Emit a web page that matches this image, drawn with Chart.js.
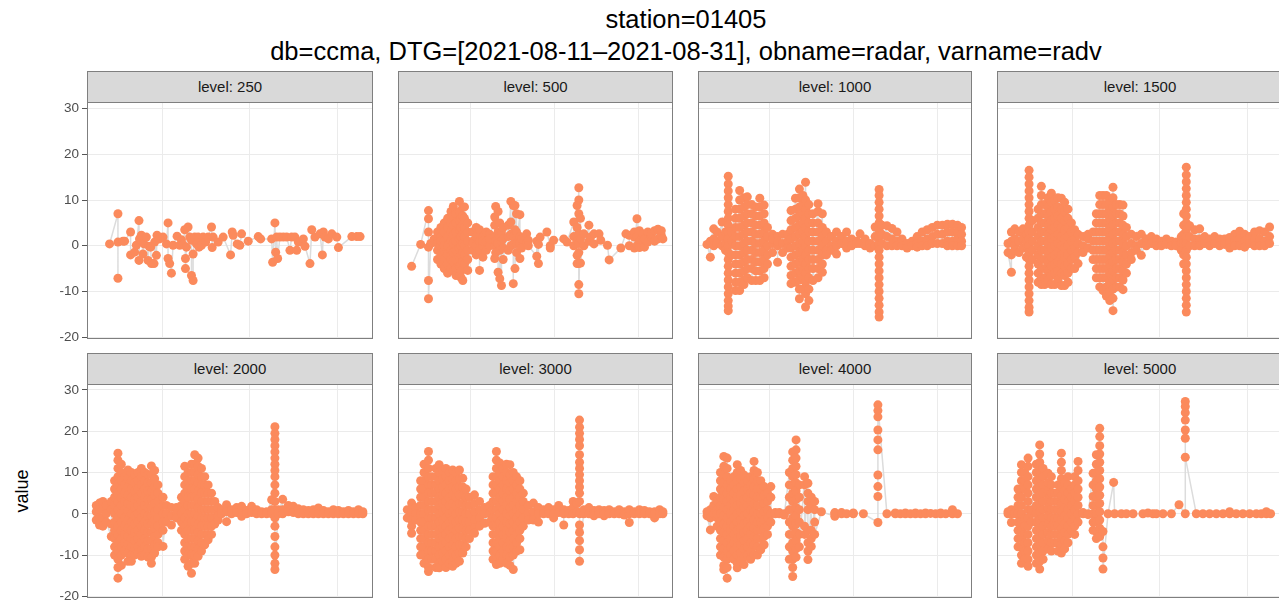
<!DOCTYPE html>
<html>
<head>
<meta charset="utf-8">
<title>station=01405 radar radv</title>
<script src="https://cdn.jsdelivr.net/npm/chart.js@4.4.1/dist/chart.umd.min.js"></script>
<style>
  html, body { margin: 0; padding: 0; background: #fff; overflow: hidden; }
  #fig { position: relative; width: 1279px; height: 601px; overflow: hidden;
         font-family: "Liberation Sans", Arial, Helvetica, sans-serif; background: #fff; }
  .ttl { position: absolute; left: 0; width: 1372px; text-align: center; color: #000;
         font-size: 25.5px; height: 30px; line-height: 30px; white-space: nowrap; }
  .strip { position: absolute; box-sizing: border-box; background: #D9D9D9;
           border: 1px solid #7f7f7f; color: #1a1a1a; font-size: 15px; text-align: center;
           white-space: nowrap; }
  .ylab { position: absolute; left: 22px; top: 491px; transform: translate(-50%, -50%) rotate(-90deg);
          font-size: 18px; color: #000; white-space: nowrap; }
  canvas { position: absolute; }
</style>
</head>
<body>
<div id="fig">
  <div class="ttl" style="top:4px">station=01405</div>
  <div class="ttl" style="top:36px">db=ccma, DTG=[2021-08-11–2021-08-31], obname=radar, varname=radv</div>
  <div class="ylab">value</div>
</div>
<script>
// Time axis in days since 2021-08-11 00:00; breaks on Aug 16, 23, 30.
const xBreaks = [5, 12, 19];
const yBreaks = [-20, -10, 0, 10, 20, 30];
const levels = [250, 500, 1000, 1500, 2000, 3000, 4000, 5000];

// Each entry: [day, [radial velocity values observed at that time]]
const lv250 = [[0.81,[0.4]],[1.48,[7.0,-7.1,0.8]],[1.88,[1.0]],[2.01,[1.0]],[2.49,[3.0,-2.0]],[2.81,[-1.4]],[2.95,[0.1]],
  [3.16,[5.5,-3.2]],[3.2,[1.5]],[3.35,[2.3]],[3.48,[-1.8]],[3.56,[0.4]],[3.75,[1.9]],[3.88,[-3.2]],[3.96,[-0.1]],
  [4.09,[-0.3]],[4.15,[-3.9]],[4.36,[-3.9]],[4.41,[0.8]],[4.55,[-2.1]],[4.6,[2.3]],[4.81,[1.5]],[5.08,[1.9]],
  [5.35,[0.4]],[5.48,[5.0,-2.8]],[5.61,[-3.9]],[5.75,[-6.0]],[5.88,[0.1]],[6.2,[2.1]],[6.41,[0.1]],[6.55,[1.3]],
  [6.68,[0.2]],[6.81,[3.5]],[6.87,[-2.8,-5.0]],[6.95,[-0.3]],[7.08,[4.1]],[7.21,[1.9]],[7.35,[1.2,-6.5]],
  [7.48,[-7.6,-1.8]],[7.61,[1.9]],[7.75,[0.4]],[7.88,[1.9]],[7.95,[-0.3]],[8.15,[0.1]],[8.28,[1.9]],[8.48,[0.8]],
  [8.68,[1.9]],[8.95,[4.1]],[9.0,[-0.4]],[9.08,[1.9]],[9.48,[0.8]],[9.88,[1.9]],[10.47,[-2.0]],[10.6,[3.0]],
  [10.68,[2.3]],[11.0,[0.4]],[11.21,[0.1]],[11.35,[2.6]],[11.88,[1.0]],[12.68,[2.0]],[12.87,[1.5]],[13.75,[1.5]],
  [13.83,[-3.6]],[14.01,[5.0]],[14.07,[-1.4]],[14.15,[1.9]],[14.23,[-2.8]],[14.41,[1.9]],[14.68,[1.9]],[14.95,[1.9]],
  [15.21,[-1.0]],[15.35,[1.9]],[15.61,[1.9]],[15.75,[-1.0]],[15.88,[0.8]],[16.28,[1.5]],[16.41,[-0.1]],[16.81,[-3.9]],
  [16.95,[3.5]],[17.21,[1.9]],[17.61,[2.6]],[17.8,[-2.0]],[17.88,[3.0]],[18.01,[1.9]],[18.28,[1.5]],[18.55,[2.6]],
  [18.95,[1.9]],[19.08,[-0.4]],[20.15,[2.0]],[20.55,[2.0]],[20.81,[2.0]]];

const lv500 = [[0.14,[-4.5]],[0.89,[0.3]],[1.54,[7.7,5.9,3.0,-0.3,-7.6,-11.6]],[1.73,[0.5]],[2.01,[1.5]],
  [2.29,[1,3,-1,-3,0.5]],[2.57,[4,2,0,-2,-4,1]],[2.85,[5,3,1,-1,-3,-5,0]],[3.13,[6,4,2,0,-2,-4,-6]],
  [3.41,[7.5,5,3,1,-1,-3,-5]],[3.6,[8.6,6.5,4.5,2.5,0.5,-1.5,-3.5,-5.5]],[3.83,[7,5,3,1,-1,-3,-5,-6.5]],
  [4.11,[9.7,7.5,5.5,3.5,1.5,-0.5,-2.5,-4.5,-6.5]],[4.25,[6,4,2,0,-2,-4,-5.5,-7]],
  [4.39,[8.5,6.5,4.5,2.5,0.5,-1.5,-3.5,-7.6]],[4.53,[8.5,6,4,2,0,-2,-4]],[4.8,[5,3,1,-1,-3,-5.4]],
  [5.22,[3,1,-1,0.5]],[5.5,[4,2,0,-2]],[5.78,[3.5,1,-5.4,-1]],[6.06,[2,0,-2.5,1]],[6.34,[3,1,-1]],[6.62,[2.5,0,1.5]],
  [7.04,[6.3,4.5,2,-2.8,0]],[7.12,[8.6,1,-1.5]],[7.32,[7.5,3,-5.8,0.5]],[7.46,[5,2,-7.2,-1]],[7.6,[-8.7,1,3]],
  [7.74,[4,1.5,-0.5,-3]],[8.16,[4.5,2,-1]],[8.38,[9.7,5.2,2.5,0]],[8.58,[8.8,0.3,-8.3,2]],[8.72,[8.8,3.5,1,-5]],
  [8.85,[7,3,-1.5,0.5]],[9.13,[6.8,2,-2.8,0.5]],[9.27,[1.5,-0.5]],[9.69,[2.6,0.5]],[9.83,[1.2,0]],[10.53,[-2.3,1]],
  [10.67,[-3.9,0.3]],[10.81,[1.9]],[11.37,[3.0]],[11.65,[0,-0.5]],[11.93,[1.2]],[12.77,[1.5]],[13.04,[0.8]],
  [13.6,[5.2,2,0]],[13.88,[8.8,4,1,-2.1,-3.9]],[14.02,[12.7,10,7,2.6,0.5,-1.5,-3.9,-8.5,-10.5]],[14.16,[6,1.5,-3.8]],
  [14.44,[2.6,0]],[14.86,[4.5,1]],[14.99,[1.9]],[15.28,[0.4,2.6]],[15.7,[2.6]],[15.84,[1.2]],[16.4,[0.1]],
  [16.54,[-3.1]],[17.51,[-0.5]],[17.93,[2.6]],[18.21,[2.3,0]],[18.63,[1.9,3,-0.5]],[18.85,[5.9,2,0]],
  [19.05,[3.3,1,-0.4]],[19.33,[1.2,2.6]],[19.47,[-0.3,1.5]],[19.75,[3.0,0.8]],[20.03,[1.9,2.6]],[20.31,[3.3,1]],
  [20.59,[3.6,1.5]],[20.87,[2.3,3.3]],[21.0,[1.5]]];

const lv1000 = [[-0.24,[0.3]],[0.04,[-2.5,0.5,1]],[0.32,[3.7,1.5,0]],[0.6,[1,3,0.5]],[1.02,[5.2,2,0]],[1.3,[3,0.5,-1]],
  [1.53,[15.2,13.5,12,10.5,9,7.5,6,4.5,3,1.5,0,-1.5,-3,-4.5,-6,-7.5,-9,-10.5,-12,-13.2,-14.2]],[1.81,[1,-2,3]],
  [2.14,[8,6,4,2,0,-2,-4,-6,-8,-9.8]],[2.48,[12.1,10,8,6,4,2,0,-2,-4,-6,-8,-9.8]],
  [2.84,[10.5,8.5,6.5,4.5,2.5,0.5,-1.5,-3.5,-5.5,-7.5,-8.5]],[3.12,[10.7,9,7,5,3,1,-1,-3,-5,-7]],
  [3.49,[9,7,5,3,1,-1,-3,-5,-7.6]],[3.82,[8.5,6.5,4.5,2.5,0.5,-1.5,-3.5,-5.5,-7.6]],
  [4.16,[10.4,8.5,6.5,4.5,2.5,0.5,-1.5,-3.5,-5.5,-7.6]],[4.52,[8.9,7,5,3,1,-1,-3,-5,-7]],[4.8,[4,2,0,-2,-4]],
  [5.22,[2.5,0.5,-1.5,1.5]],[5.64,[2,0,-3.6,1]],[6.06,[2.5,0.5,-1.5]],[6.48,[1,2.5,-0.5]],
  [6.76,[7.7,5.5,3.5,1.5,-0.5,-2.5,-4.5,-6.5,-8.3]],[7.13,[10.4,8,6,4,2,0,-2,-4,-6,-8]],
  [7.46,[12.4,10.5,8.5,6.5,4.5,2.5,0.5,-1.5,-3.5,-5.5,-7.5,-9.5,-11.6]],[7.75,[11,9,7,5,3,1,-1,-3,-5,-7,-9.5]],
  [7.97,[13.9,10,8,6,4,2,0,-2,-4,-6,-8,-10.5,-13.4]],[8.25,[9,7,5,3,1,-1,-3,-5,-7,-9.5,-12]],
  [8.59,[7,5,3,1,-1,-3,-5,-7.6]],[9.01,[9.2,7.5,5,3,1,-1,-3,-5,-7]],[9.37,[7,4,2,0,-2,-4,-5.8]],[9.71,[3,1,-1,-2]],
  [10.13,[2,0,-1]],[10.55,[3,1,-1.8,0]],[10.97,[2,0.5]],[11.39,[3,1,-0.5]],[11.81,[1.5,0]],[12.23,[1,0.5]],
  [12.51,[2.6,0.5]],[12.93,[1.5,0]],[13.35,[0.5,-0.5]],[13.77,[4.1,2,0]],
  [14.1,[12.3,11,9.5,8,6.5,5,3.5,2,0.5,-1,-2.5,-4,-5.5,-7,-8.5,-10,-11.5,-13,-14.5,-15.6]],[14.33,[4.5,2.5,0.5]],
  [14.75,[4.4,2,0]],[15.17,[3.8,1.5,0]],[15.59,[3,1,0]],[16.01,[1.5,0]],[16.43,[0.5,-0.5]],[16.85,[1,0]],
  [17.27,[2,0.5,-0.3]],[17.69,[3,1,0]],[18.11,[3.5,1.5,0]],[18.53,[4,2,0.5]],[18.95,[4.5,2.5,0.5]],
  [19.37,[4.5,2.5,0.5]],[19.79,[4.7,3,1,0]],[20.21,[4.7,3,1,0]],[20.63,[4.5,3,1.5,0]],[20.97,[4,2.5,1,0]]];

const lv1500 = [[-0.11,[0.5,-1.5]],[0.16,[-5.8,1,3,-2]],[0.43,[3.7,1.5,0,-1]],[0.77,[3,1,-1.5]],[1.09,[3.7,1.5,-0.5]],
  [1.36,[2.5,0,-2.5,1]],[1.57,[16.5,15,13.5,12,10.5,9,7.5,6,4.5,3,1.5,0,-1.5,-3,-4.5,-6,-7.5,-9,-10.5,-12,-13.5,-14.5]],
  [1.84,[3,1,-1,-3,5.5]],[2.29,[8,6,4,2,0,-2,-4,-6,-8]],[2.55,[13,11,9,7,5,3,1,-1,-3,-5,-7,-8.5]],
  [2.82,[9,7,5,3,1,-1,-3,-5,-7,-8.5]],[3.09,[10.5,8.5,6.5,4.5,2.5,0.5,-1.5,-3.5,-5.5,-7.5]],
  [3.35,[11.5,9.5,7.5,5.5,3.5,1.5,-0.5,-2.5,-4.5,-6.5,-8.5]],[3.62,[10,8,6,4,2,0,-2,-4,-6,-8.5]],
  [3.88,[10.5,8.5,6.5,4.5,2.5,0.5,-1.5,-3.5,-5.5,-7.5]],[4.15,[10.4,8,6,4,2,0,-2,-4,-6,-8.7]],
  [4.41,[9.5,7.5,5.5,3.5,1.5,-0.5,-2.5,-4.5,-6.5,-8.7]],[4.68,[8,6,4,2,0,-2,-4,-6,-8]],[4.95,[5,3,1,-1,-3,-5]],
  [5.21,[3.5,1.5,-0.5,-2.5,-5]],[5.48,[2.5,0.5,-1.5,-3.9]],[5.88,[2,0,-1.5]],[6.28,[1.5,-0.5,2.5]],[6.68,[3,1,-1,-3]],
  [6.94,[7,5,3,1,-1,-3,-5,-7]],[7.21,[11,9,7,5,3,1,-1,-3,-5,-7,-9]],[7.47,[11,9,7,5,3,1,-1,-3,-5,-7,-9.8]],
  [7.74,[11,9,7,5,3,1,-1,-3,-5,-7,-9,-11]],[8.01,[10,8,6,4,2,0,-2,-4,-6,-8,-10,-12]],
  [8.27,[12.8,10.5,8.5,6.5,4.5,2.5,0.5,-1.5,-3.5,-5.5,-7.5,-9.5,-11.5,-14.2]],[8.54,[9,7,5,3,1,-1,-3,-5,-7,-9]],
  [8.8,[9,7,5,3,1,-1,-3,-5,-7,-9]],[9.07,[8.9,6.5,4.5,2.5,0.5,-1.5,-3.5,-5.5,-7.5,-9.6]],[9.34,[4,2,0,-2,-4,-6]],
  [9.73,[2.5,0.5,-1.5,-3]],[10.13,[2,0,-1]],[10.53,[2.5,0.5,-2.1]],[10.93,[1.5,0]],[11.33,[2,0.5]],[11.73,[1.5,0]],
  [12.13,[1,0]],[12.53,[1.5,0.3]],[12.93,[1,0]],[13.32,[0.8,0]],[13.72,[2,0.5,-1]],[13.91,[7,4.5,2.5,0.5,-2,-4]],
  [14.12,[17.2,15.5,14,12.5,11,9.5,8,6.5,5,3.5,2,0.5,-1,-2.5,-4,-5.5,-7,-8.5,-10,-11.5,-13,-14.5]],[14.39,[4.4,2,0]],
  [14.79,[3.5,1.5,0]],[15.19,[3.7,1.5,0]],[15.59,[2,0.5]],[15.98,[1.5,0]],[16.38,[2,0.5]],[16.78,[1.5,0]],
  [17.18,[1.5,0.3]],[17.58,[1.8,0.5,-0.5]],[17.98,[2.5,1,0]],[18.38,[3.2,1.5,0]],[18.78,[2.5,1,-0.3]],[19.18,[2,0.5]],
  [19.57,[3,1.5,0]],[19.97,[3.3,1.5,0]],[20.37,[3,1,0]],[20.77,[4.1,2,0.5]]];

const lv2000 = [[-0.25,[0.5,-1.5,2]],[0.01,[2.6,1,-1,-2.7]],[0.28,[3,1,-1,-3]],[0.55,[2,0,-2]],[0.95,[-5.5,1,-2.5,3]],
  [1.21,[8,6,4,2,0,-2,-4,-6,-8,-10]],[1.48,[14.7,13,11,9,7,5,3,1,-1,-3,-5,-7,-9,-11,-13,-15.6]],
  [1.75,[12,10,8,6,4,2,0,-2,-4,-6,-8,-10,-12.5]],[2.01,[9,7,5,3,1,-1,-3,-5,-7,-9]],
  [2.28,[10.6,8.5,6.5,4.5,2.5,0.5,-1.5,-3.5,-5.5,-7.5,-9.5,-11.5]],[2.55,[10,8,6,4,2,0,-2,-4,-6,-8,-10,-11.5]],
  [2.81,[9.5,7.5,5.5,3.5,1.5,-0.5,-2.5,-4.5,-6.5,-8.5,-10]],[3.08,[10,8,6,4,2,0,-2,-4,-6,-8,-9.5]],
  [3.35,[11,9,7,5,3,1,-1,-3,-5,-7,-9,-10.3]],[3.61,[10,8,6,4,2,0,-2,-4,-6,-8,-10]],
  [3.88,[9.5,7.5,5.5,3.5,1.5,-0.5,-2.5,-4.5,-6.5,-8.5,-10.5]],
  [4.15,[11.6,9.5,7.5,5.5,3.5,1.5,-0.5,-2.5,-4.5,-6.5,-8.5,-10.5,-12]],
  [4.41,[10.5,8.5,6.5,4.5,2.5,0.5,-1.5,-3.5,-5.5,-7.5,-9.5]],[4.68,[7,5,3,1,-1,-3,-5,-7,-8]],
  [5.08,[4,2,0,-2,-4,-7.9]],[5.35,[2,0,-2]],[5.75,[1.5,-0.5,-2.7]],[6.15,[1.5,0,-1]],[6.55,[4,2,0,-2,-4]],
  [6.81,[11.5,9,7,5,3,1,-1,-3,-5,-7,-9,-11]],[7.08,[10,8,6,4,2,0,-2,-4,-6,-8,-10,-12.7]],
  [7.35,[12,10,8,6,4,2,0,-2,-4,-6,-8,-10,-12,-14.4]],[7.61,[14.3,12,10,8,6,4,2,0,-2,-4,-6,-8,-10,-12]],
  [7.88,[13.5,11.5,9.5,7.5,5.5,3.5,1.5,-0.5,-2.5,-4.5,-6.5,-8.5,-10.3]],[8.15,[11,9,7,5,3,1,-1,-3,-5,-7,-9]],
  [8.41,[9,7,5,3,1,-1,-3,-5,-7.5]],[8.68,[7,5,3,1,-1,-3,-5,-6.3]],[8.95,[5,3,1,-1,-3,-5]],[9.21,[3,1,-1,-2.5]],
  [9.48,[1.5,-0.5,-1.5]],[9.75,[1,0]],[10.15,[2.2,0.5,-1.9]],[10.55,[1,0]],[10.95,[1.5,0.3]],[11.35,[1.8,0,-0.6]],
  [11.75,[0.8,0]],[12.15,[1.8,0.3]],[12.55,[1,0]],[12.95,[0.5,0]],[13.35,[0.5,0]],[13.75,[3.4,1,0]],
  [14.01,[21.1,19.5,18,16.5,15,13.5,12,10.5,9,7,5,3,1,-1,-3,-5.5,-8,-10,-12,-13.5]],[14.28,[1,0]],[14.63,[3.5,1,0]],
  [15.08,[2,0.5]],[15.48,[1.8,0.3]],[15.88,[1.2,0]],[16.28,[1,0]],[16.68,[0.8,0]],[17.08,[1,0]],[17.48,[1.4,0]],
  [17.88,[0.8,0]],[18.28,[0.5,0]],[18.68,[1,0]],[19.08,[0.8,0]],[19.48,[0.5,0]],[19.88,[0.8,0]],[20.28,[0.5,0]],
  [20.68,[1,0]],[21.03,[0.5,0]]];

const lv3000 = [[-0.22,[1,-1]],[0.14,[2.6,0.5,-1.5,-3,-4.7]],[0.47,[1.5,0,-1.5]],[0.89,[8,6,4,2,0,-2,-4,-6,-8,-10]],
  [1.17,[12,10,8,6,4,2,0,-2,-4,-6,-8,-10,-12]],[1.54,[15.1,13,11,9,7,5,3,1,-1,-3,-5,-7,-9,-11,-13,-14]],
  [1.82,[9,7,5,3,1,-1,-3,-5,-7,-9,-11]],[2.15,[11,9,7,5,3,1,-1,-3,-5,-7,-9,-11,-13]],
  [2.43,[11.9,10,8,6,4,2,0,-2,-4,-6,-8,-10,-12,-13.1]],[2.71,[10.5,8.5,6.5,4.5,2.5,0.5,-1.5,-3.5,-5.5,-7.5,-9.5,-11.5]],
  [2.99,[11,9,7,5,3,1,-1,-3,-5,-7,-9,-11,-13]],[3.27,[10,8,6,4,2,0,-2,-4,-6,-8,-10,-12]],
  [3.55,[10.6,8.5,6.5,4.5,2.5,0.5,-1.5,-3.5,-5.5,-7.5,-9.5,-11.5,-12.7]],[3.83,[10,8,6,4,2,0,-2,-4,-6,-8,-10,-12]],
  [4.11,[10.6,8.5,6.5,4.5,2.5,0.5,-1.5,-3.5,-5.5,-7.5,-9.5,-11.5]],[4.39,[8.6,6.5,4.5,2.5,0.5,-1.5,-3.5,-5.5,-7.5,-9.5]],
  [4.66,[6,4,2,0,-2,-4,-6,-8]],[4.94,[4,2,0,-2,-4,-6]],[5.36,[4.6,2.5,0.5,-1.5,-3.5,-4.7]],[5.78,[3,1,-1,-3]],
  [6.2,[1.5,0,-2.3]],[6.62,[2,0,-2]],[6.9,[9,7,5,3,1,-1,-3,-5,-7,-9,-11]],
  [7.18,[15.1,13,11,9,7,5,3,1,-1,-3,-5,-7,-9,-11,-12.3]],[7.46,[12.3,10,8,6,4,2,0,-2,-4,-6,-8,-10,-12]],
  [7.74,[11,9,7,5,3,1,-1,-3,-5,-7,-9,-11]],[8.02,[12,10,8,6,4,2,0,-2,-4,-6,-8,-10,-12]],
  [8.3,[11.9,9.5,7.5,5.5,3.5,1.5,-0.5,-2.5,-4.5,-6.5,-8.5,-10.5,-12.5]],[8.58,[10,8,6,4,2,0,-2,-4,-6,-8,-10,-13.5]],
  [8.85,[9,7,5,3,1,-1,-3,-5,-7,-9]],[9.13,[8,6,4,2,0,-2,-4,-6,-8.7]],[9.41,[5,3,1,-1,-3]],[9.83,[2,0,-1.5]],
  [10.25,[2.6,0.5,-1.5]],[10.67,[1.5,0,-2]],[11.09,[1,0]],[11.51,[1.5,0]],[11.93,[1,0,-1]],[12.35,[2,0.3]],
  [12.77,[1,-2.7,0]],[13.18,[0.8,0]],[13.55,[3,1.5,0]],[13.88,[2.5,0.5]],
  [14.08,[22.7,21,19.5,18,16.5,14.3,12.5,11,9.5,8,6.5,5,3,0,-2.7,-4.5,-6.5,-8.7,-11.5]],[14.44,[1,0]],[14.86,[1.5,0]],
  [15.28,[0.8,0,-0.5]],[15.7,[1,0]],[16.12,[0.8,-0.5,0]],[16.54,[1,0]],[16.96,[0.5,0]],[17.37,[1,0]],[17.79,[0.5,-0.3]],
  [18.21,[-2.1,0,1]],[18.63,[0.5,0]],[19.05,[1,0]],[19.47,[0.8,0]],[19.89,[0.5,0]],[20.31,[-1,0.5,0]],[20.73,[1,0]],
  [21.0,[0.5,0]]];

const lv4000 = [[-0.24,[0.5,-0.5]],[0.04,[-3.9,-1,1]],[0.32,[4.2,2,0]],[0.6,[3,1,-1,-3,0]],
  [0.88,[10,8,6,4,2,0,-2,-4,-6,-8,-10]],[1.16,[13.9,11.5,9.5,7.5,5.5,3.5,1.5,-0.5,-2.5,-4.5,-6.5,-8.5,-10.5,-12.5,-13.5]],
  [1.44,[13.5,11,9,7,5,3,1,-1,-3,-5,-7,-9,-11,-13,-15.6]],[1.72,[8,6,4,2,0,-2,-4,-6,-8,-10]],
  [2.0,[9,7,5,3,1,-1,-3,-5,-7,-9,-11]],[2.28,[11.9,10,8,6,4,2,0,-2,-4,-6,-8,-10,-12,-13.1]],
  [2.56,[10.5,8.5,6.5,4.5,2.5,0.5,-1.5,-3.5,-5.5,-7.5,-9.5,-11.5]],
  [2.84,[9.4,7.5,5.5,3.5,1.5,-0.5,-2.5,-4.5,-6.5,-8.5,-10.5,-12.3]],[3.12,[8,6,4,2,0,-2,-4,-6,-8,-10]],
  [3.4,[9,7,5,3,1,-1,-3,-5,-7,-9,-11]],[3.68,[12.7,10.5,8.5,6.5,4.5,2.5,0.5,-1.5,-3.5,-5.5,-7.5,-9.9]],
  [3.96,[10,8,6,4,2,0,-2,-4,-6,-8,-10]],[4.24,[8,6,4,2,0,-2,-4,-6,-8.7]],[4.52,[6.6,4.5,2.5,0.5,-1.5,-3.5,-5.5,-7.5]],
  [4.8,[5,3,1,-1,-3,-5]],[5.08,[6.6,4,0,-2]],[5.45,[0.3,0]],[5.78,[0,0.3]],[6.2,[0,-0.3]],
  [6.62,[10,7,4,1,-2,-5,-8,-11]],[6.9,[15,13,11,9,7,5,3,1,-1,-3,-5,-7,-9,-11,-13,-15.2]],
  [7.18,[17.9,15.5,13.5,11.5,9.5,7.5,5.5,3.5,1.5,-0.5,-2.5,-4.5,-6.5,-8.5,-10.5]],[7.46,[7,4,1,-2,-5,-8]],
  [7.89,[9,7,-3,-5]],[8.17,[7.4,5,3,1,-4,-7,-9,-11.1]],[8.45,[4,2,-4,-6,-7.9]],[8.73,[3,1,-2,-5]],[9.29,[0.5]],
  [10.41,[-0.6,0,0.3]],[10.97,[0,0.3]],[11.39,[0]],[11.95,[0,0.2]],[12.79,[0]],
  [14.0,[-2.1,4.2,6.6,9.4,15.5,17.9,20.3,23.5,25,26.4]],[14.75,[0]],[15.45,[0,0.2]],[15.87,[0]],[16.29,[0,0.2]],
  [16.71,[0]],[17.13,[0.2,0]],[17.55,[0]],[17.97,[0,0.2]],[18.39,[0.1]],[18.81,[0]],[19.23,[0.2,0]],[19.65,[0]],
  [20.21,[1,0]],[20.63,[0]]];

const lv5000 = [[-0.11,[0.5,0]],[0.16,[-2.1,0,1]],[0.43,[0.3,0]],[0.69,[6,4,2,0,-2,-4,-6,-8]],
  [0.96,[11.9,10,8,6,4,2,0,-2,-4,-6,-8,-10,-12]],[1.22,[10,8,6,-1,-3,-5,-7,-9,-11]],
  [1.49,[13.5,11.5,9,7,5,3,1,-1,-3,-5,-7,-9,-11,-12.7]],[1.76,[0,-2,1]],[2.15,[12,10,8,6,4,2,0,-2,-4,-6,-8,-10,-12]],
  [2.42,[16.7,14.5,12.5,10.5,8.5,6.5,4.5,2.5,0.5,-1.5,-3.5,-5.5,-7.5,-9.5,-11.5,-13.4]],
  [2.69,[11,9,7,5,3,1,-1,-3,-5,-7,-9,-11]],[3.09,[9.8,7.5,5.5,3.5,1.5,-0.5,-2.5,-4.5,-6.5,-8.5]],
  [3.35,[9,7,5,3,1,-1,-3,-5,-7,-9]],[3.62,[5,3,1,-1,-3,-5,-7]],[3.88,[7,5,3,1,-1,-3,-5,-7,-9]],
  [4.15,[14.7,12.5,10.5,8.5,6.5,4.5,2.5,0.5,-1.5,-3.5,-5.5,-7.5,-9.5]],[4.41,[7.4,5.5,3.5,1.5,-0.5,-2.5,-4.5,-6.5,-8.5]],
  [4.68,[9,7,5,3,1,-1,-3,-5,-7]],[4.95,[6,4,2,0,-2,-4]],[5.21,[9,7,5,3,1,-1,-3,-5]],[5.48,[12.7,10.5,8,6,4,2,0,-2]],
  [5.88,[0.3,0]],[6.28,[0,-0.2]],[6.68,[9.8,7,4.2,2,0,-2,-4]],[6.94,[14.3,12,10,8,6,4,2,0,-2,-4.3,-6]],
  [7.21,[20.7,18.7,16.5,14.5,12.5,10.5,8.5,6.5,4.5,2.5,0.5,-1.5,-3.5,-5.5]],[7.47,[-4.3,-8,-10.7,-13.4]],
  [7.87,[0]],[8.32,[7.6]],[8.4,[0]],[8.94,[0]],[9.34,[0]],[9.87,[0]],[10.66,[0]],[11.06,[0.2]],[11.46,[0]],
  [11.73,[0]],[12.26,[0]],[12.93,[0]],[13.54,[2.2]],[14.04,[0,27.2,26,24.5,22.7,20.3,18.3,13.7]],[14.92,[0]],
  [15.45,[0]],[15.98,[0]],[16.52,[0]],[17.05,[0]],[17.58,[0.5,0]],[18.11,[0]],[18.64,[0]],[19.18,[0]],[19.71,[0]],
  [20.11,[0]],[20.51,[0.5,0]],[20.85,[0]]];

const seriesByLevel = [lv250, lv500, lv1000, lv1500, lv2000, lv3000, lv4000, lv5000];

// ---- facet layout (pixels) ----
const FONT = '"Liberation Sans", Arial, Helvetica, sans-serif';
const colX = [[87, 373], [398, 673], [698, 972], [997, 1283]];
const rowY = [{ strip: 71, top: 102, bottom: 339, below: 12 },
              { strip: 353, top: 384, bottom: 598, below: 3 }];
const AXIS_W = 87, PAD_TOP = 8;
const X_MIN = -0.99, X_MAX = 21.84, Y_MIN = -20.4, Y_MAX = 31.45;

const frame = {
  id: 'panelFrame',
  afterDraw(chart) {
    const a = chart.chartArea, ctx = chart.ctx;
    ctx.save();
    ctx.strokeStyle = '#7f7f7f';
    ctx.lineWidth = 1;
    ctx.strokeRect(a.left + 0.5, a.top + 0.5, a.right - a.left - 1, a.bottom - a.top - 1);
    ctx.restore();
  }
};

const fig = document.getElementById('fig');

levels.forEach((lvl, i) => {
  const col = i % 4, row = Math.floor(i / 4);
  const [x0, x1] = colX[col];
  const r = rowY[row];
  const first = col === 0;

  const strip = document.createElement('div');
  strip.className = 'strip';
  strip.textContent = 'level: ' + lvl;
  strip.style.left = x0 + 'px';
  strip.style.top = r.strip + 'px';
  strip.style.width = (x1 - x0) + 'px';
  strip.style.height = (r.top - r.strip + 1) + 'px';
  strip.style.lineHeight = (r.top - r.strip - 1) + 'px';
  fig.appendChild(strip);

  const left = first ? 0 : x0;
  const w = x1 - left;
  const h = (r.bottom - r.top) + PAD_TOP + r.below;
  const cv = document.createElement('canvas');
  cv.width = w; cv.height = h;
  cv.style.left = left + 'px';
  cv.style.top = (r.top - PAD_TOP) + 'px';
  cv.style.width = w + 'px';
  cv.style.height = h + 'px';
  fig.appendChild(cv);

  const pts = [];
  seriesByLevel[i].forEach(([day, vals]) => vals.forEach(v => pts.push({ x: day, y: v })));

  new Chart(cv, {
    type: 'scatter',
    data: {
      datasets: [{
        data: pts,
        showLine: true,
        borderColor: '#DCDCDC',
        borderWidth: 1.5,
        pointRadius: 4.5,
        pointHoverRadius: 4.5,
        pointBackgroundColor: '#FB8A5C',
        pointBorderWidth: 0
      }]
    },
    options: {
      responsive: false,
      animation: false,
      devicePixelRatio: 1,
      events: [],
      layout: { autoPadding: false, padding: { top: PAD_TOP, left: 0, right: 0, bottom: 0 } },
      plugins: { legend: { display: false }, tooltip: { enabled: false } },
      scales: {
        x: {
          type: 'linear', min: X_MIN, max: X_MAX,
          afterBuildTicks: s => { s.ticks = xBreaks.map(v => ({ value: v })); },
          afterFit: s => { s.height = r.below; s.paddingLeft = 0; s.paddingRight = 0; },
          ticks: { display: false },
          grid: { color: '#EBEBEB', lineWidth: 1, drawTicks: false },
          border: { display: false }
        },
        y: {
          type: 'linear', min: Y_MIN, max: Y_MAX,
          afterBuildTicks: s => { s.ticks = yBreaks.map(v => ({ value: v })); },
          afterFit: s => { s.width = first ? AXIS_W : 0; s.paddingTop = 0; s.paddingBottom = 0; },
          ticks: { display: first, color: '#4D4D4D', font: { family: FONT, size: 13.5 }, padding: 3 },
          grid: { color: '#EBEBEB', lineWidth: 1, drawTicks: first, tickLength: 5, tickColor: '#555' },
          border: { display: false }
        }
      }
    },
    plugins: [frame]
  });
});
</script>
</body>
</html>
